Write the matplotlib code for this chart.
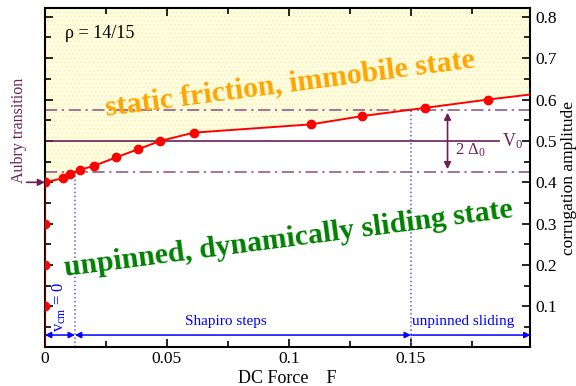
import matplotlib
matplotlib.use('Agg')
import matplotlib.pyplot as plt
import numpy as np

plt.rcParams['font.family'] = ['Liberation Serif', 'DejaVu Serif']
plt.rcParams['mathtext.fontset'] = 'custom'
plt.rcParams['mathtext.rm'] = 'Liberation Serif'
plt.rcParams['mathtext.it'] = 'Liberation Serif:italic'

# depinning curve: DC force vs corrugation amplitude
force = [0, 0.0075, 0.0102, 0.0143, 0.0202, 0.0291, 0.0382, 0.0473, 0.0610, 0.109, 0.130, 0.1559, 0.1817, 0.21]
ampl = [0.40, 0.41, 0.42, 0.43, 0.44, 0.46, 0.48, 0.50, 0.52, 0.54, 0.56, 0.58, 0.60, 0.62]
# pinned points at zero force
pinned_ampl = [0.1, 0.2, 0.3, 0.4]

V0 = 0.5
delta0 = 0.075
F_vcm = 0.0123
F_unpin = 0.15
rho_label = 'ρ = 14/15'

fig = plt.figure(figsize=(5.76, 3.86), dpi=100)
ax = fig.add_axes([0.078, 0.102, 0.843, 0.876])
xmax, ymin, ymax = 0.199, 0.003, 0.82

# yellow static-friction region
fx = np.array(force)
ax.fill_between(fx, ampl, ymax, facecolor='#ffffe0', edgecolor='#f7f2c4',
                hatch='....', linewidth=0, zorder=0)

purple = '#6b1f5a'
dd = '#8c4d82'
ax.plot([0, xmax], [V0 + delta0] * 2, color=dd, lw=1.1, ls=(0, (8, 3, 1.5, 3)))
ax.plot([0, xmax], [V0 - delta0] * 2, color=dd, lw=1.1, ls=(0, (8, 3, 1.5, 3)))
ax.plot([0, 0.186], [V0, V0], color=purple, lw=1.2)
ax.text(0.1875, V0, r'V$_0$', color=purple, fontsize=13, va='center', ha='left')
ax.annotate('', xy=(0.165, V0 + delta0), xytext=(0.165, V0 - delta0),
            arrowprops=dict(arrowstyle='<|-|>', color=purple, lw=1.2, mutation_scale=10))
ax.text(0.168, 0.478, r'2 $\Delta_0$', color=purple, fontsize=12, va='center')

# blue dotted markers
ax.plot([F_vcm, F_vcm], [ymin, 0.423], color='#5a5aff', ls=':', lw=1.1)
ax.plot([F_unpin, F_unpin], [ymin, 0.578], color='#5a5aff', ls=':', lw=1.1)

blue = '#0000ff'
ya = 0.031
ax.annotate('', xy=(0, ya), xytext=(F_vcm, ya),
            arrowprops=dict(arrowstyle='<|-|>', color=blue, lw=1.1, mutation_scale=9, shrinkA=0, shrinkB=0))
ax.annotate('', xy=(F_vcm, ya), xytext=(F_unpin, ya),
            arrowprops=dict(arrowstyle='<|-|>', color=blue, lw=1.1, mutation_scale=9, shrinkA=0, shrinkB=0))
ax.annotate('', xy=(F_unpin, ya), xytext=(xmax, ya),
            arrowprops=dict(arrowstyle='<|-', color=blue, lw=1.1, mutation_scale=9, shrinkA=0, shrinkB=0))
ax.text(0.074, 0.064, 'Shapiro steps', color=blue, fontsize=11, ha='center', va='center')
ax.text(0.1505, 0.064, 'unpinned sliding', color=blue, fontsize=11, ha='left', va='center')
ax.text(0.0058, 0.1, r'v$_{\rm cm}$ = 0', color=blue, fontsize=12, rotation=90,
        ha='center', va='center')

# data
ax.plot([0, 0], [0, 0.4], color='#700000', lw=1.5, zorder=3)
ax.plot(force, ampl, color='#ff0000', lw=1.4, marker='o', ms=6, zorder=4)
ax.plot([0] * len(pinned_ampl), pinned_ampl, ls='none', marker='o', ms=6, color='#ff0000', zorder=4)

ax.text(0.0082, 0.76, rho_label, fontsize=13, va='center')
ax.text(0.1005, 0.638, 'static friction, immobile state', color='#ffa500', fontsize=21.5,
        fontweight='bold', rotation=7.5, ha='center', va='center')
ax.text(0.1, 0.262, 'unpinned, dynamically sliding state', color='#008000', fontsize=21.5,
        fontweight='bold', rotation=7.5, ha='center', va='center')

# Aubry transition label outside the axes
ax.annotate('', xy=(0, 0.4), xytext=(-0.0075, 0.4), annotation_clip=False,
            arrowprops=dict(arrowstyle='-|>', color=purple, lw=1.2, mutation_scale=10, shrinkA=0, shrinkB=0))
ax.text(-0.0108, 0.525, 'Aubry transition', color=purple, fontsize=11.5, rotation=90,
        ha='center', va='center')

ax.set_xlim(0, xmax)
ax.set_ylim(ymin, ymax)
ax.set_xticks([0, 0.05, 0.1, 0.15])
ax.set_xticklabels(['0', '0.05', '0.1', '0.15'])
ax.set_xticks(np.arange(0.025, 0.2, 0.05), minor=True)
ax.set_yticks([0.1, 0.2, 0.3, 0.4, 0.5, 0.6, 0.7, 0.8])
ax.set_yticks(np.arange(0.05, 0.81, 0.1), minor=True)
ax.tick_params(which='both', direction='in', top=True, right=True, left=True,
               labelleft=False, labelright=True, labelsize=12.5, width=1.2)
ax.tick_params(which='major', length=6)
ax.tick_params(which='minor', length=4)
ax.yaxis.set_label_position('right')
ax.set_ylabel('corrugation amplitude', fontsize=12.5, labelpad=3)
ax.set_xlabel('DC Force    F', fontsize=13, labelpad=2)
for s in ax.spines.values():
    s.set_linewidth(1.5)

fig.savefig('out.png', dpi=100)
